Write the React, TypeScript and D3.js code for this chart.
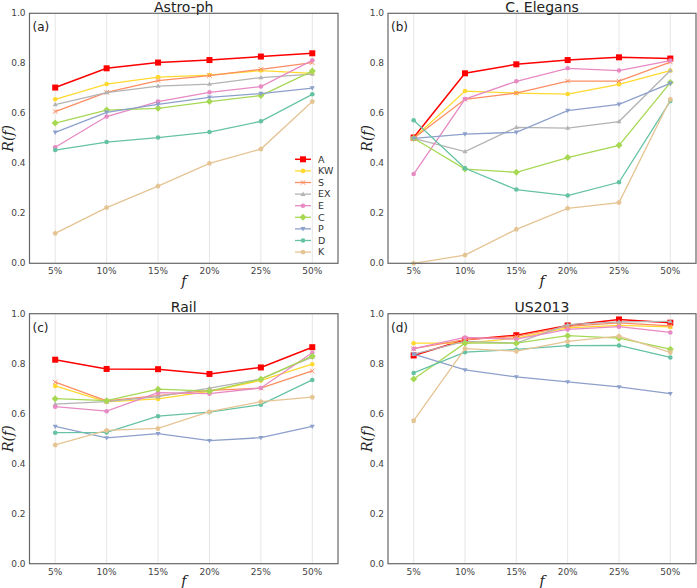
import React from "react";
import * as d3 from "d3";

const categories = ["5%", "10%", "15%", "20%", "25%", "50%"];
const seriesNames = ["A", "KW", "S", "EX", "E", "C", "P", "D", "K"];
const yTicks = [0, 0.2, 0.4, 0.6, 0.8, 1.0];

const astroA = [0.703, 0.78, 0.803, 0.813, 0.827, 0.84];
const astroKW = [0.656, 0.717, 0.745, 0.753, 0.771, 0.76];
const astroS = [0.607, 0.684, 0.731, 0.751, 0.776, 0.803];
const astroEX = [0.635, 0.683, 0.709, 0.717, 0.743, 0.757];
const astroE = [0.464, 0.587, 0.647, 0.684, 0.707, 0.812];
const astroC = [0.561, 0.613, 0.62, 0.647, 0.671, 0.769];
const astroP = [0.524, 0.604, 0.636, 0.664, 0.679, 0.701];
const astroD = [0.453, 0.485, 0.503, 0.525, 0.568, 0.676];
const astroK = [0.12, 0.223, 0.309, 0.4, 0.457, 0.647];

const elegA = [0.503, 0.76, 0.796, 0.813, 0.824, 0.819];
const elegKW = [0.5, 0.689, 0.681, 0.677, 0.716, 0.771];
const elegS = [0.5, 0.656, 0.681, 0.729, 0.729, 0.805];
const elegEX = [0.5, 0.447, 0.544, 0.541, 0.567, 0.771];
const elegE = [0.357, 0.657, 0.728, 0.78, 0.771, 0.811];
const elegC = [0.5, 0.377, 0.364, 0.423, 0.472, 0.723];
const elegP = [0.5, 0.517, 0.524, 0.611, 0.636, 0.72];
const elegD = [0.572, 0.38, 0.295, 0.271, 0.324, 0.649];
const elegK = [0.0, 0.033, 0.136, 0.22, 0.243, 0.656];

const railA = [0.816, 0.779, 0.778, 0.759, 0.785, 0.866];
const railKW = [0.711, 0.647, 0.659, 0.689, 0.733, 0.798];
const railS = [0.726, 0.651, 0.672, 0.693, 0.702, 0.771];
const railEX = [0.638, 0.648, 0.668, 0.702, 0.739, 0.826];
const railE = [0.628, 0.61, 0.684, 0.68, 0.703, 0.844];
const railC = [0.66, 0.652, 0.698, 0.69, 0.738, 0.83];
const railP = [0.549, 0.503, 0.52, 0.492, 0.504, 0.549];
const railD = [0.524, 0.525, 0.59, 0.606, 0.636, 0.735];
const railK = [0.475, 0.533, 0.541, 0.608, 0.648, 0.666];

const usA = [0.833, 0.896, 0.914, 0.953, 0.977, 0.964];
const usKW = [0.882, 0.882, 0.902, 0.943, 0.953, 0.947];
const usS = [0.86, 0.896, 0.909, 0.949, 0.963, 0.951];
const usEX = [0.838, 0.889, 0.882, 0.956, 0.967, 0.969];
const usE = [0.86, 0.905, 0.898, 0.937, 0.948, 0.925];
const usC = [0.739, 0.882, 0.882, 0.912, 0.902, 0.858];
const usP = [0.838, 0.775, 0.747, 0.727, 0.707, 0.68];
const usD = [0.763, 0.846, 0.857, 0.872, 0.873, 0.825];
const usK = [0.572, 0.86, 0.85, 0.889, 0.91, 0.845];

const panels = [
  { title: "Astro-ph", tag: "(a)", series: [astroA, astroKW, astroS, astroEX, astroE, astroC, astroP, astroD, astroK], legend: true },
  { title: "C. Elegans", tag: "(b)", series: [elegA, elegKW, elegS, elegEX, elegE, elegC, elegP, elegD, elegK], legend: false },
  { title: "Rail", tag: "(c)", series: [railA, railKW, railS, railEX, railE, railC, railP, railD, railK], legend: false },
  { title: "US2013", tag: "(d)", series: [usA, usKW, usS, usEX, usE, usC, usP, usD, usK], legend: false },
];

const colors = ["#ff0000", "#ffd92f", "#fc8d62", "#b3b3b3", "#e78ac3", "#a6d854", "#8da0cb", "#66c2a5", "#e5c494"];
const markers = ["square", "circle", "cross", "triangleUp", "circle", "diamond", "triangleDown", "circle", "pentagon"];

function Marker({ type, x, y, color }: { type: string; x: number; y: number; color: string }) {
  switch (type) {
    case "square":
      return <rect x={x - 3} y={y - 3} width={6} height={6} fill={color} />;
    case "circle":
      return <circle cx={x} cy={y} r={2.3} fill={color} />;
    case "cross":
      return (
        <path d={`M${x - 2.2},${y - 2.2}L${x + 2.2},${y + 2.2}M${x - 2.2},${y + 2.2}L${x + 2.2},${y - 2.2}`} stroke={color} strokeWidth={1} />
      );
    case "triangleUp":
      return <path d={`M${x},${y - 2.6}L${x + 2.5},${y + 1.8}L${x - 2.5},${y + 1.8}Z`} fill={color} />;
    case "triangleDown":
      return <path d={`M${x},${y + 2.6}L${x + 2.5},${y - 1.8}L${x - 2.5},${y - 1.8}Z`} fill={color} />;
    case "diamond":
      return <path d={`M${x},${y - 3.5}L${x + 3.5},${y}L${x},${y + 3.5}L${x - 3.5},${y}Z`} fill={color} />;
    case "pentagon": {
      const pts = d3.range(5).map((i) => {
        const a = -Math.PI / 2 + (i * 2 * Math.PI) / 5;
        return `${x + 2.7 * Math.cos(a)},${y + 2.7 * Math.sin(a)}`;
      });
      return <polygon points={pts.join(" ")} fill={color} />;
    }
    default:
      return null;
  }
}

function Panel({ p, left, right, top, bottom }: any) {
  const x = d3.scalePoint<string>().domain(categories).range([left, right]).padding(0.5);
  const y = d3.scaleLinear().domain([0, 1]).range([bottom, top]);
  const line = d3
    .line<number>()
    .x((_, i) => x(categories[i]) as number)
    .y((d) => y(d));
  const cx = (left + right) / 2;
  const cy = (top + bottom) / 2;
  const lx = left - 21;
  return (
    <g>
      {categories.map((c) => (
        <line key={c} x1={x(c)} x2={x(c)} y1={top} y2={bottom} stroke="#e6e6e6" strokeWidth={1} />
      ))}
      {p.series.map((s: number[], si: number) => (
        <g key={si}>
          <path d={line(s) || ""} fill="none" stroke={colors[si]} strokeWidth={si === 0 ? 1.5 : 1.3} />
          {s.map((v, i) => (
            <Marker key={i} type={markers[si]} x={x(categories[i]) as number} y={y(v)} color={colors[si]} />
          ))}
        </g>
      ))}
      <rect x={left} y={top} width={right - left} height={bottom - top} fill="none" stroke="#666" strokeWidth={1.2} />
      {yTicks.map((t) => (
        <text key={t} x={left - 4} y={y(t)} dy="0.35em" textAnchor="end" fontSize={9} fill="#444" fontFamily="DejaVu Sans">
          {t.toFixed(1)}
        </text>
      ))}
      {categories.map((c) => (
        <text key={c} x={x(c)} y={bottom + 11} textAnchor="middle" fontSize={9} fill="#444" fontFamily="DejaVu Sans">
          {c}
        </text>
      ))}
      <text x={cx} y={top - 1.8} textAnchor="middle" fontSize={14} fill="#222" fontFamily="DejaVu Sans">
        {p.title}
      </text>
      <text x={left + 3} y={top + 18} fontSize={12} fill="#222" fontFamily="DejaVu Sans">
        {p.tag}
      </text>
      <text x={lx} y={cy} textAnchor="middle" fontSize={14} fontStyle="italic" fill="#222" fontFamily="DejaVu Serif" transform={`rotate(-90 ${lx} ${cy})`} dy="0.35em">
        R(f)
      </text>
      <text x={cx} y={bottom + 22.5} textAnchor="middle" fontSize={14} fontStyle="italic" fill="#222" fontFamily="DejaVu Serif">
        f
      </text>
      {p.legend &&
        seriesNames.map((n, i) => {
          const ly = 159.3 + i * 11.6;
          return (
            <g key={n}>
              <line x1={295} x2={311} y1={ly} y2={ly} stroke={colors[i]} strokeWidth={i === 0 ? 1.5 : 1.3} />
              <Marker type={markers[i]} x={303} y={ly} color={colors[i]} />
              <text x={318} y={ly} dy="0.35em" fontSize={9.5} fill="#333" fontFamily="DejaVu Sans">
                {n}
              </text>
            </g>
          );
        })}
    </g>
  );
}

export default function App() {
  const boxes = [
    { left: 29.5, right: 338, top: 13.3, bottom: 263.3 },
    { left: 388, right: 696, top: 13.3, bottom: 263.3 },
    { left: 29.5, right: 338, top: 313.7, bottom: 563.7 },
    { left: 388, right: 696, top: 313.7, bottom: 563.7 },
  ];
  return (
    <svg width={697} height={588} style={{ position: "absolute", left: 0, top: 0, background: "#fff" }}>
      <rect width={697} height={588} fill="#fff" />
      {panels.map((p, i) => (
        <Panel key={i} p={p} {...boxes[i]} />
      ))}
    </svg>
  );
}
